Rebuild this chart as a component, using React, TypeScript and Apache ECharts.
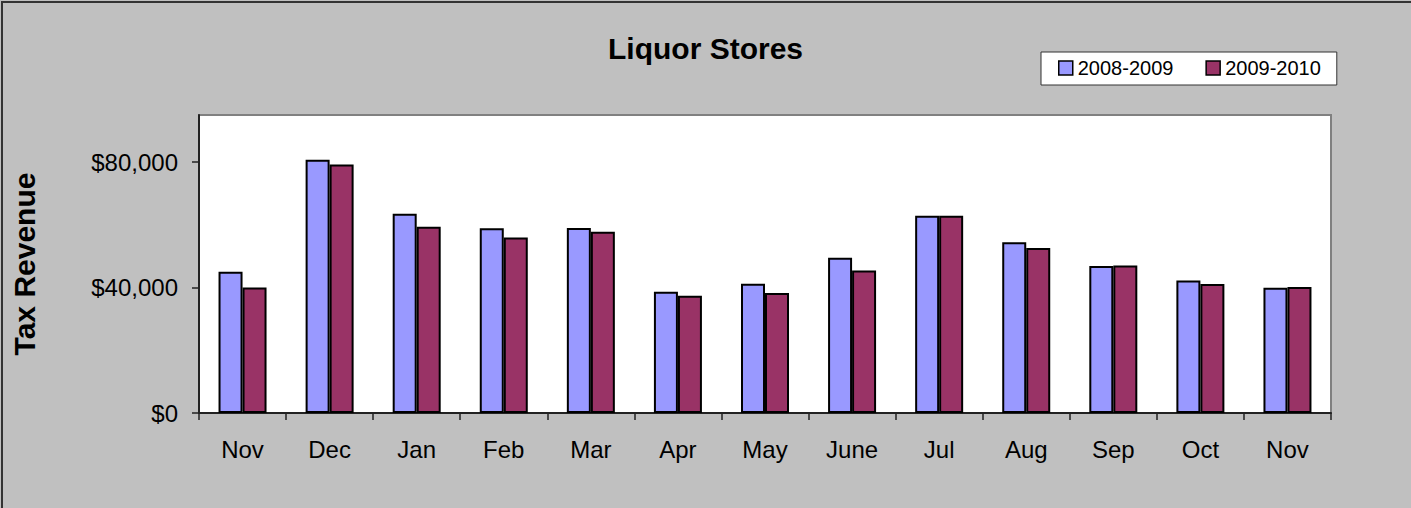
import React, { useEffect, useRef } from "react";
import * as echarts from "echarts";

const months = ["Nov", "Dec", "Jan", "Feb", "Mar", "Apr", "May", "June", "Jul", "Aug", "Sep", "Oct", "Nov"];
const series2008 = [45000, 80700, 63500, 58900, 59000, 38650, 41200, 49500, 62900, 54400, 46850, 42250, 39950];
const series2009 = [40000, 79200, 59350, 55950, 57750, 37400, 38250, 45450, 62900, 52600, 47050, 41100, 40150];
const yTicks = [0, 40000, 80000];
const seriesNames = ["2008-2009", "2009-2010"];

const FONT = "'Liberation Sans', Arial, sans-serif";

export default function App() {
  const ref = useRef<HTMLDivElement>(null);
  useEffect(() => {
    const chart = echarts.init(ref.current!, null, { renderer: "svg" });
    chart.setOption({
      animation: false,
      backgroundColor: "#c0c0c0",
      textStyle: { fontFamily: FONT },
      title: {
        text: "Liquor Stores",
        left: "center",
        top: 33,
        padding: 0,
        textStyle: { fontSize: 30, fontWeight: "bold", color: "#000", fontFamily: FONT },
      },
      legend: {
        data: seriesNames,
        left: 1041,
        top: 52,
        padding: [6, 16, 7, 17],
        itemGap: 32,
        itemWidth: 14,
        itemHeight: 14,
        icon: "rect",
        backgroundColor: "#fff",
        borderColor: "#333",
        borderWidth: 1,
        borderRadius: 0,
        textStyle: { fontSize: 20, color: "#000", fontFamily: FONT },
        itemStyle: { borderColor: "#000", borderWidth: 1.5 },
      },
      grid: {
        left: 199,
        top: 115,
        width: 1132,
        height: 298,
        show: true,
        backgroundColor: "#fff",
        borderColor: "#808080",
        borderWidth: 2,
      },
      graphic: [
        {
          type: "polyline",
          shape: { points: [[2, 508], [2, 2], [1411, 2]] },
          style: { stroke: "#333", lineWidth: 2, fill: null },
          silent: true,
        },
      ],
      xAxis: {
        type: "category",
        data: months,
        boundaryGap: true,
        axisLine: { lineStyle: { color: "#222", width: 2 } },
        axisTick: { show: true, interval: 0, length: 7, lineStyle: { color: "#222", width: 1.5 } },
        axisLabel: { interval: 0, fontSize: 24, color: "#000", margin: 24, fontFamily: FONT },
        splitLine: { show: false },
      },
      yAxis: {
        type: "value",
        min: 0,
        max: 95000,
        interval: 40000,
        name: "Tax Revenue",
        nameLocation: "middle",
        nameRotate: 90,
        nameGap: 160,
        nameTextStyle: { fontSize: 30, fontWeight: "bold", color: "#000", fontFamily: FONT },
        axisLine: { show: true, lineStyle: { color: "#222", width: 2 } },
        axisTick: { show: true, length: 7, customValues: yTicks, lineStyle: { color: "#222", width: 1.5 } },
        axisLabel: {
          fontSize: 24,
          color: "#000",
          margin: 21,
          fontFamily: FONT,
          customValues: yTicks,
          formatter: (v: number) => "$" + v.toLocaleString("en-US"),
        },
        splitLine: { show: false },
      },
      series: [
        {
          name: seriesNames[0],
          type: "bar",
          data: series2008,
          barWidth: 24,
          barGap: "0%",
          itemStyle: { color: "#9999ff", borderColor: "#000", borderWidth: 2 },
        },
        {
          name: seriesNames[1],
          type: "bar",
          data: series2009,
          barWidth: 24,
          barGap: "0%",
          itemStyle: { color: "#993366", borderColor: "#000", borderWidth: 2 },
        },
      ],
    });
    return () => chart.dispose();
  }, []);
  return (
    <div
      ref={ref}
      style={{ position: "fixed", left: 0, top: 0, width: 1411, height: 508 }}
    />
  );
}
